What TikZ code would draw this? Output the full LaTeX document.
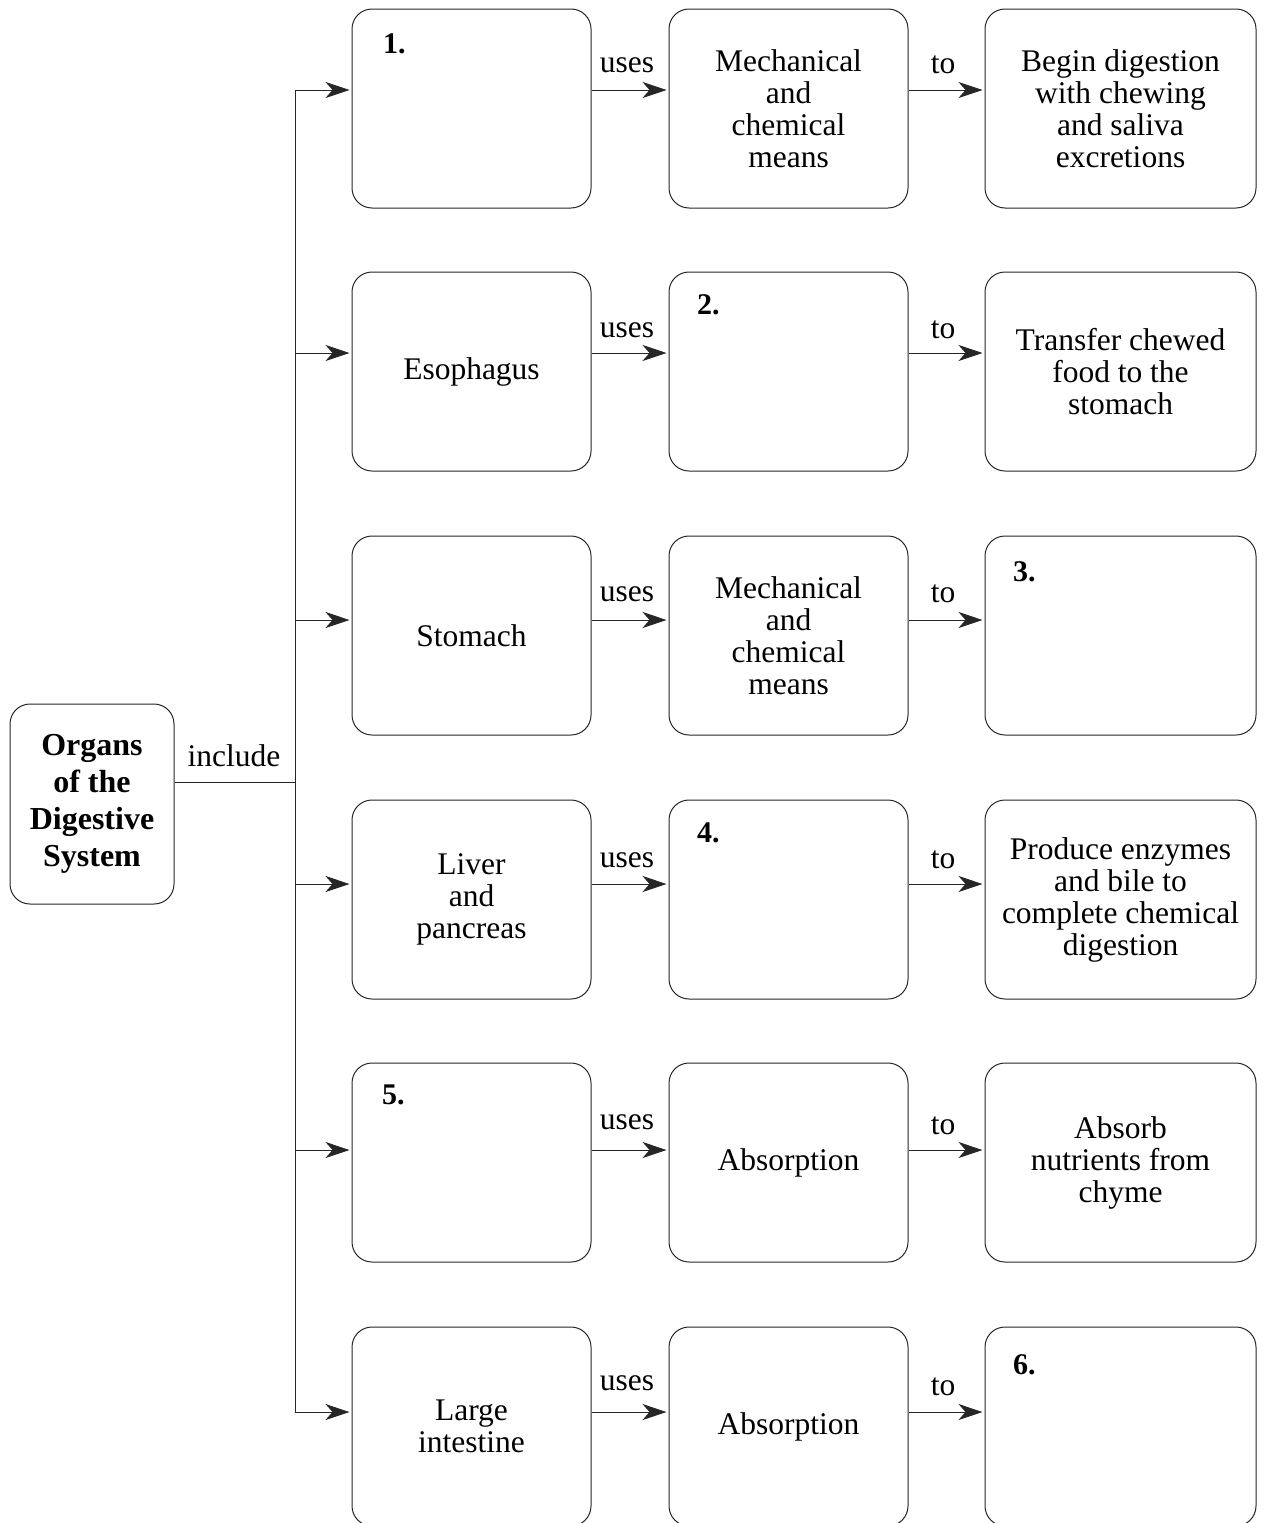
\documentclass[tikz,border=0pt]{standalone}
\usepackage{fontspec}
\setmainfont{Liberation Serif}
\usetikzlibrary{arrows.meta}
\tikzset{
  box/.style={draw=black!85, line width=1pt, rounded corners=20pt, inner sep=0pt,
    align=center, font=\fontsize{31.5}{32}\selectfont},
  narrowbox/.style={box, minimum width=239pt, minimum height=199pt},
  widebox/.style={box, minimum width=271pt, minimum height=199pt},
  numlabel/.style={anchor=base west, inner sep=0pt, font=\fontsize{30}{32}\selectfont\bfseries},
  lbl/.style={inner sep=0pt, font=\fontsize{31.5}{32}\selectfont},
  conn/.style={draw=black!85, line width=1pt},
  arr/.style={conn, -{Stealth[length=24pt,width=16pt,inset=7pt]}, shorten >=2pt}
}
\begin{document}
\begin{tikzpicture}[x=1pt,y=-1pt]
\useasboundingbox (0,0) rectangle (1265,1523);

% root
\node[box, minimum width=164pt, minimum height=200pt,
  font=\fontsize{32}{37}\selectfont\bfseries] (org) at (92,804)
  {Organs\\of the\\Digestive\\System};

% rows
\node[narrowbox] (b11) at (471.5,108.5) {};
\node[narrowbox] (b12) at (788.5,108.5) {Mechanical\\and\\chemical\\means};
\node[widebox]   (b13) at (1120.5,108.5) {Begin digestion\\with chewing\\and saliva\\excretions};

\node[narrowbox] (b21) at (471.5,371.5) {Esophagus};
\node[narrowbox] (b22) at (788.5,371.5) {};
\node[widebox]   (b23) at (1120.5,371.5) {Transfer chewed\\food to the\\stomach};

\node[narrowbox] (b31) at (471.5,635.5) {Stomach};
\node[narrowbox] (b32) at (788.5,635.5) {Mechanical\\and\\chemical\\means};
\node[widebox]   (b33) at (1120.5,635.5) {};

\node[narrowbox] (b41) at (471.5,899.5) {Liver\\and\\pancreas};
\node[narrowbox] (b42) at (788.5,899.5) {};
\node[widebox]   (b43) at (1120.5,899.5) {Produce enzymes\\and bile to\\complete chemical\\digestion};

\node[narrowbox] (b51) at (471.5,1162.5) {};
\node[narrowbox] (b52) at (788.5,1162.5) {Absorption};
\node[widebox]   (b53) at (1120.5,1162.5) {Absorb\\nutrients from\\chyme};

\node[narrowbox] (b61) at (471.5,1426.5) {Large\\intestine};
\node[narrowbox] (b62) at (788.5,1426.5) {Absorption};
\node[widebox]   (b63) at (1120.5,1426.5) {};

% number labels
\node[numlabel] (n1) at (383,53) {1.};
\node[numlabel] (n2) at (697,314) {2.};
\node[numlabel] (n3) at (1013,581) {3.};
\node[numlabel] (n4) at (697,842) {4.};
\node[numlabel] (n5) at (382,1104) {5.};
\node[numlabel] (n6) at (1013,1374) {6.};

% spine
\coordinate (r1) at (295,90);
\coordinate (r2) at (295,353);
\coordinate (r3) at (295,620);
\coordinate (r4) at (295,884);
\coordinate (r5) at (295,1150);
\coordinate (r6) at (295,1412);
\coordinate (j) at (295,782);

\draw[conn] (org.east |- j) -- (j);
\node[lbl] (inc) at (234,756) {include};
\draw[conn] (r1) -- (r6);

\foreach \i in {1,...,6}{
  \draw[arr] (r\i) -- (r\i -| b\i1.west);
  \draw[arr] (r\i -| b\i1.east) -- (r\i -| b\i2.west);
  \draw[arr] (r\i -| b\i2.east) -- (r\i -| b\i3.west);
}

\node[lbl] (u1) at (627,65) {uses};
\node[lbl] (t1) at (943,65) {to};
\node[lbl] (u2) at (627,330) {uses};
\node[lbl] (t2) at (943,330) {to};
\node[lbl] (u3) at (627,594) {uses};
\node[lbl] (t3) at (943,594) {to};
\node[lbl] (u4) at (627,860) {uses};
\node[lbl] (t4) at (943,860) {to};
\node[lbl] (u5) at (627,1122) {uses};
\node[lbl] (t5) at (943,1126) {to};
\node[lbl] (u6) at (627,1383) {uses};
\node[lbl] (t6) at (943,1387) {to};
\end{tikzpicture}
\end{document}
